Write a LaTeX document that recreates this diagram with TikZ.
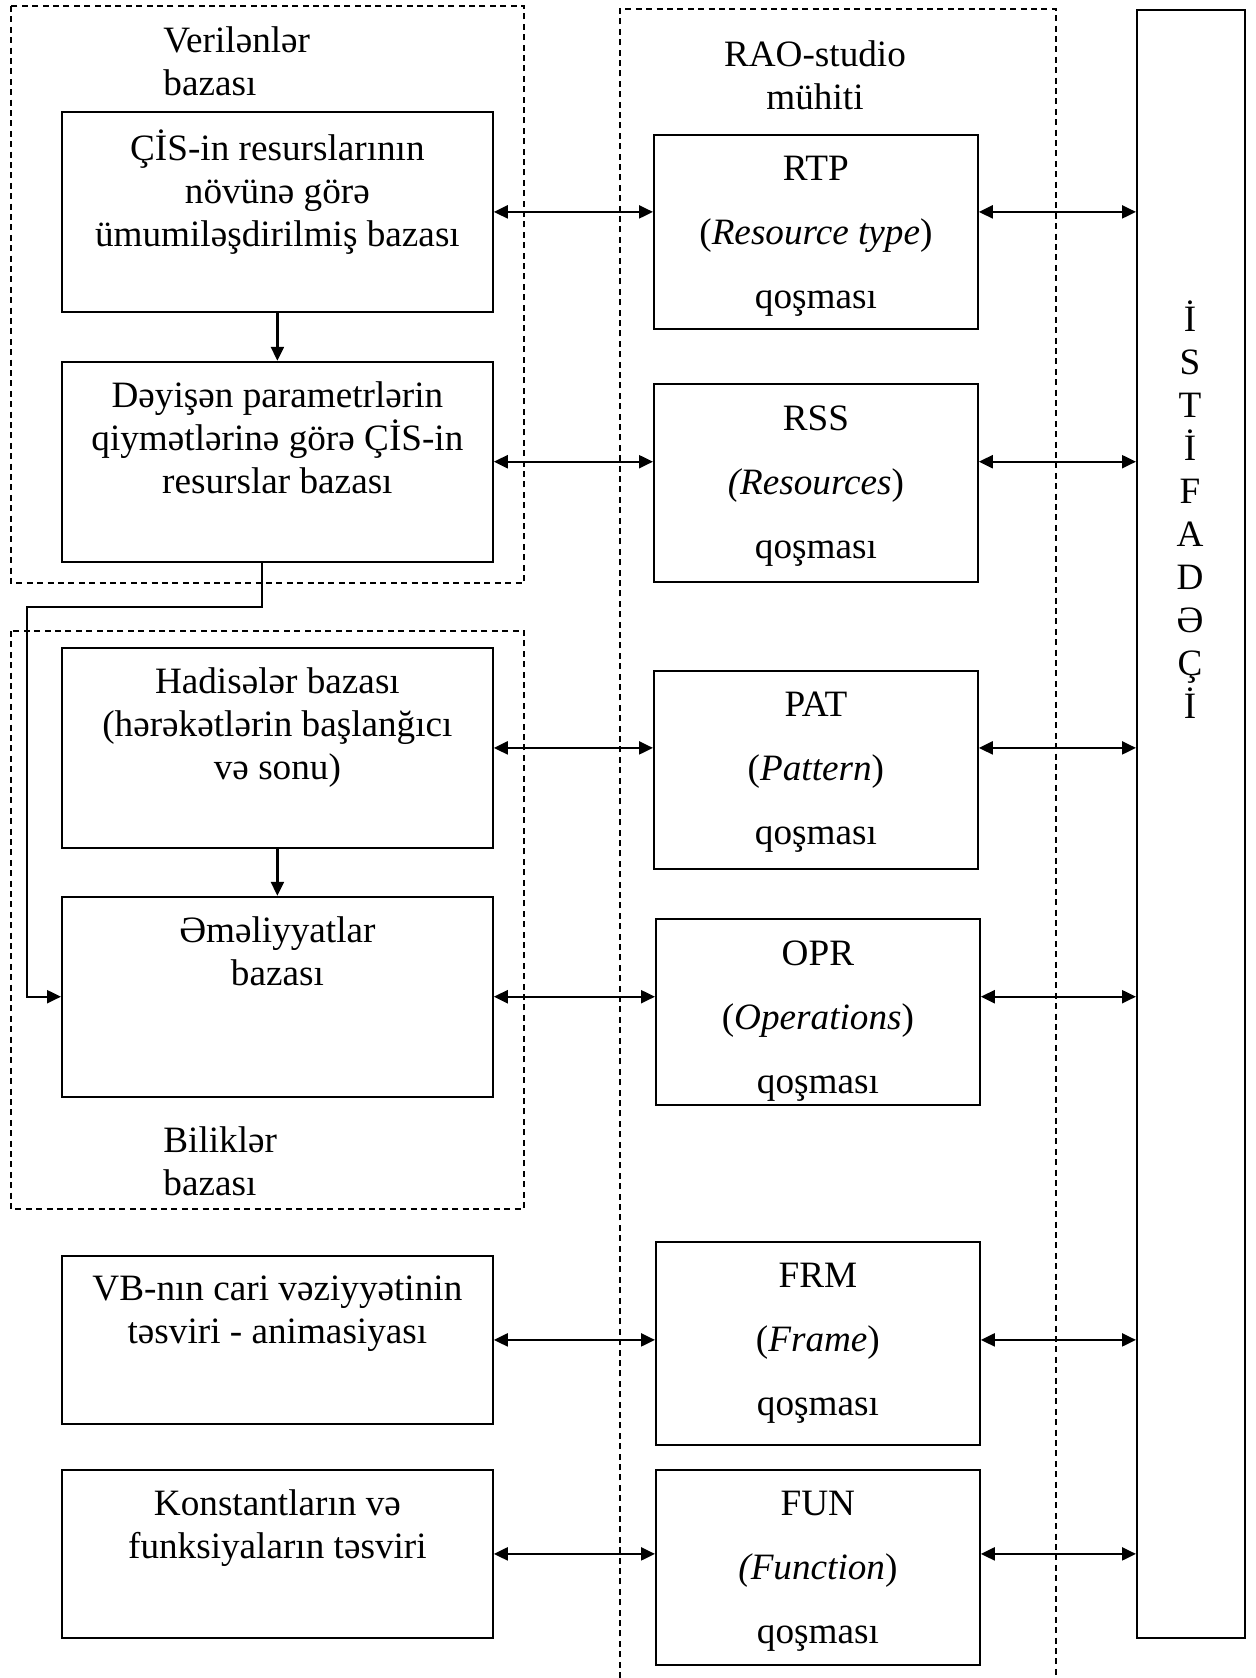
\documentclass[tikz,border=0pt]{standalone}
\usepackage{fontspec}
\setmainfont{Liberation Serif}
\usetikzlibrary{arrows.meta,positioning}
\tikzset{>={Triangle[length=7pt,width=6.5pt]}}

\begin{document}
\begin{tikzpicture}[
    x=0.5pt, y=-0.5pt,
    node distance=24pt,
    box/.style={rectangle, draw, line width=0.9pt, anchor=north west, inner sep=0pt},
    leftbox/.style={box, minimum width=215.5pt, minimum height=100pt},
    plugbox/.style={box, minimum width=162pt},
    txt/.style={anchor=north, align=center, inner sep=0pt,
        font=\fontsize{18.6}{21.5}\selectfont, execute at begin node={\rule{0pt}{15pt}}},
    plugtxt/.style={txt, font=\fontsize{18.6}{32}\selectfont},
    group/.style={draw, line width=0.7pt, dash pattern=on 3pt off 2.2pt},
    arrow/.style={<->, line width=1.1pt},
    link/.style={->, line width=1.1pt}
]
    \useasboundingbox (0,0) rectangle (1256,1678);

    \draw[group] (11,6) rectangle (524,583);
    \draw[group] (11,631) rectangle (524,1209);
    \draw[group] (620,1678) |- (1056,9) -- (1056,1678);

    \node[txt, anchor=north west, align=left] (vblabel) at (163,26) {Verilənlər\\bazası};
    \node[txt, anchor=north west, align=left] (bblabel) at (163,1126) {Biliklər\\bazası};
    \node[txt] (raolabel) at (815,40) {RAO-studio\\mühiti};

    \node[leftbox] (cisres) at (61,111) {};
    \node[leftbox, below=of cisres] (deyisen) {};
    \node[leftbox] (hadise) at (61,647) {};
    \node[leftbox, below=23.5pt of hadise] (emel) {};
    \node[leftbox, minimum height=84pt] (animasiya) at (61,1255) {};
    \node[leftbox, minimum height=84pt] (konst) at (61,1469) {};

    \node[txt] at ([yshift=-9pt]cisres.north) {ÇİS-in resurslarının\\növünə görə\\ümumiləşdirilmiş bazası};
    \node[txt] at ([yshift=-10pt]deyisen.north) {Dəyişən parametrlərin\\qiymətlərinə görə ÇİS-in\\resurslar bazası};
    \node[txt] at ([yshift=-10pt]hadise.north) {Hadisələr bazası\\(hərəkətlərin başlanğıcı\\və sonu)};
    \node[txt] at ([yshift=-10pt]emel.north) {Əməliyyatlar\\bazası};
    \node[txt] at ([yshift=-10pt]animasiya.north) {VB-nın cari vəziyyətinin\\təsviri - animasiyası};
    \node[txt] at ([yshift=-10pt]konst.north) {Konstantların və\\funksiyaların təsviri};

    \node[plugbox, minimum height=97pt] (rtp) at (653,134) {};
    \node[plugbox, minimum height=99pt] (rss) at (653,383) {};
    \node[plugbox, minimum height=99pt] (pat) at (653,670) {};
    \node[plugbox, minimum height=93pt] (opr) at (655,918) {};
    \node[plugbox, minimum height=101.5pt] (frm) at (655,1241) {};
    \node[plugbox, minimum height=97.5pt] (fun) at (655,1469) {};

    \node[plugtxt] at ([yshift=-11pt]rtp.north) {RTP\\(\textit{Resource type})\\qoşması};
    \node[plugtxt] at ([yshift=-11pt]rss.north) {RSS\\\textit{(Resources})\\qoşması};
    \node[plugtxt] at ([yshift=-11pt]pat.north) {PAT\\(\textit{Pattern})\\qoşması};
    \node[plugtxt] at ([yshift=-11pt]opr.north) {OPR\\(\textit{Operations})\\qoşması};
    \node[plugtxt] at ([yshift=-11pt]frm.north) {FRM\\(\textit{Frame})\\qoşması};
    \node[plugtxt] at ([yshift=-11pt]fun.north) {FUN\\\textit{(Function})\\qoşması};

    \node[box, minimum width=54pt, minimum height=814pt] (user) at (1136,9) {};
    \node[txt] (userlabel) at (1190,300) {İ\\S\\T\\İ\\F\\A\\D\\Ə\\Ç\\İ};

    \draw[link] (cisres.south) -- (deyisen.north);
    \draw[link] (hadise.south) -- (emel.north);
    \coordinate (elbow) at (262,607);
    \coordinate (bend) at (27,607);
    \draw[link] (deyisen.south -| elbow) -- (elbow) -- (bend) |- (emel.west);

    \draw[arrow] (cisres.east) -- (cisres.east -| rtp.west);
    \draw[arrow] (deyisen.east) -- (deyisen.east -| rss.west);
    \draw[arrow] (hadise.east) -- (hadise.east -| pat.west);
    \draw[arrow] (emel.east) -- (emel.east -| opr.west);
    \draw[arrow] (animasiya.east) -- (animasiya.east -| frm.west);
    \draw[arrow] (konst.east) -- (konst.east -| fun.west);

    \draw[arrow] (rtp.east |- cisres.east) -- (cisres.east -| user.west);
    \draw[arrow] (rss.east |- deyisen.east) -- (deyisen.east -| user.west);
    \draw[arrow] (pat.east |- hadise.east) -- (hadise.east -| user.west);
    \draw[arrow] (opr.east |- emel.east) -- (emel.east -| user.west);
    \draw[arrow] (frm.east |- animasiya.east) -- (animasiya.east -| user.west);
    \draw[arrow] (fun.east |- konst.east) -- (konst.east -| user.west);
\end{tikzpicture}
\end{document}
